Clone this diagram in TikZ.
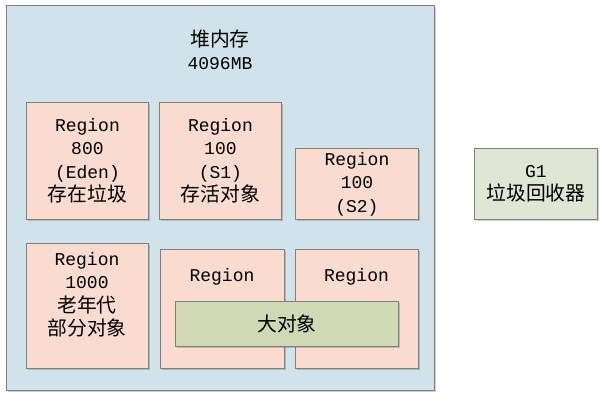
\documentclass[tikz,border=0pt]{standalone}
\usepackage{fontspec}
\setmainfont{Liberation Mono}
\newfontfamily\cjk{Noto Sans CJK SC}[Scale=1.1]
\usetikzlibrary{shadows}
\definecolor{heapblue}{HTML}{D0E2EA}
\definecolor{regionpink}{HTML}{FADBCF}
\definecolor{bigobj}{HTML}{CDDAB4}
\definecolor{gcgreen}{HTML}{DDE7D3}
\definecolor{edge}{HTML}{7F7F7F}
\begin{document}
\begin{tikzpicture}[x=1pt,y=-1pt,
  boxbase/.style={draw=edge, line width=0.9pt, inner sep=0pt, anchor=north west,
    drop shadow={shadow xshift=1.2pt, shadow yshift=-1.2pt, fill=black, opacity=0.18}},
  heap/.style={boxbase, fill=heapblue},
  region/.style={boxbase, fill=regionpink},
  bigbox/.style={boxbase, fill=bigobj},
  gcbox/.style={boxbase, fill=gcgreen},
  label/.style={align=center, inner sep=0pt, font=\fontsize{18}{23.5}\selectfont},
]
\useasboundingbox (0,0) rectangle (605,400);

% heap memory frame
\node[heap, minimum width=428pt, minimum height=385pt] (heapbox) at (6,5) {};
\node[label] (heaptitle) at (220,50) {{\cjk 堆内存}\\4096MB};

% upper row of regions
\node[region, minimum width=122pt, minimum height=117pt] (eden) at (26,102) {};
\node[label] (edentxt) at (eden.center) {Region\\800\\(Eden)\\{\cjk 存在垃圾}};

\node[region, minimum width=122pt, minimum height=117pt] (sone) at (159,102) {};
\node[label] (sonetxt) at (sone.center) {Region\\100\\(S1)\\{\cjk 存活对象}};

\node[region, minimum width=123pt, minimum height=71pt] (stwo) at (295,148) {};
\node[label] (stwotxt) at (stwo.center) {Region\\100\\(S2)};

% lower row of regions
\node[region, minimum width=122pt, minimum height=125pt] (old) at (26,243) {};
\node[label, anchor=north] (oldtxt) at (87,252) {Region\\1000\\{\cjk 老年代}\\{\cjk 部分对象}};

\node[region, minimum width=124pt, minimum height=119pt] (humleft) at (160,249) {};
\node[label] (humlefttxt) at (222,277) {Region};

\node[region, minimum width=123pt, minimum height=119pt] (humright) at (295,249) {};
\node[label] (humrighttxt) at (356.5,277) {Region};

% humongous object spanning two regions
\node[bigbox, minimum width=223pt, minimum height=45pt] (big) at (175,301) {};
\node[label] (bigtxt) at (big.center) {\cjk 大对象};

% collector
\node[gcbox, minimum width=123pt, minimum height=71pt] (gc) at (474,148) {};
\node[label] (gctxt) at (gc.center) {G1\\{\cjk 垃圾回收器}};
\end{tikzpicture}
\end{document}
